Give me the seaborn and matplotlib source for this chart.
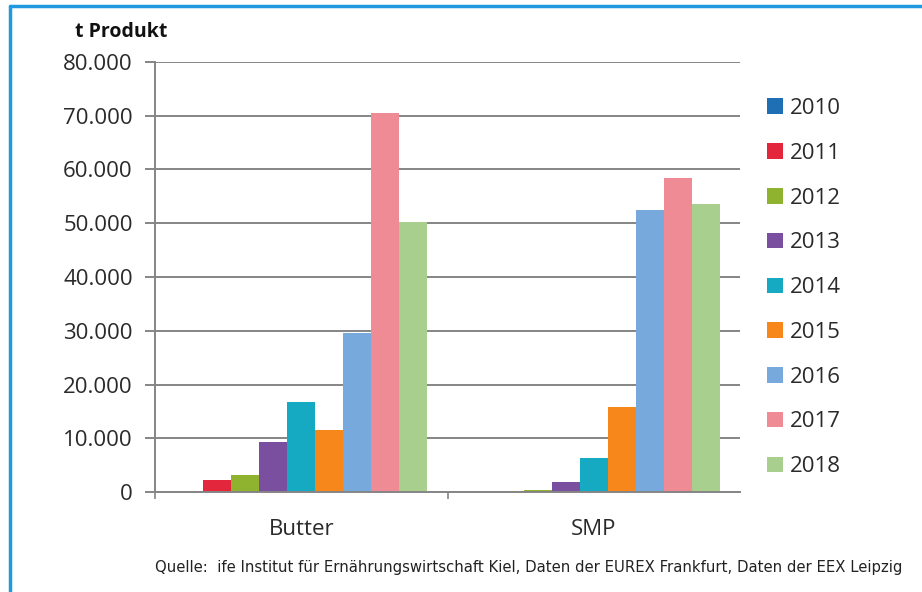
import pandas as pd
import seaborn as sns
import matplotlib.pyplot as plt
from matplotlib.ticker import FuncFormatter
from matplotlib.lines import Line2D

# Data (t Produkt)
products = ["Butter", "SMP"]
years = ["2010", "2011", "2012", "2013", "2014", "2015", "2016", "2017", "2018"]
butter = [0, 2300, 3200, 9400, 16700, 11500, 29600, 70500, 50300]
smp = [0, 0, 500, 1900, 6400, 15900, 52400, 58400, 53600]
colors = ["#1f6fb4", "#e3263b", "#8fb32e", "#7b4fa0", "#16a9c2",
          "#f7861b", "#78a9dc", "#ee8b95", "#a9cf8e"]

df = pd.DataFrame({
    "product": ["Butter"] * len(years) + ["SMP"] * len(years),
    "year": years * 2,
    "value": butter + smp,
})

sns.set_style("white")
plt.rcParams["font.family"] = ["Open Sans", "DejaVu Sans"]

fig = plt.figure(figsize=(9.22, 5.92), dpi=100)
ax = fig.add_axes([0.168, 0.1684, 0.635, 0.7274])

sns.barplot(data=df, x="product", y="value", hue="year", order=products,
            hue_order=years, palette=colors, width=0.86, saturation=1,
            edgecolor="none", ax=ax)

ax.set_xlim(-0.5, 1.5)
ax.set_ylim(0, 80000)
ax.set_yticks(range(0, 80001, 10000))
ax.yaxis.set_major_formatter(FuncFormatter(lambda v, p: f"{int(v):,}".replace(",", ".")))
ax.grid(axis="y", color="#858585", linewidth=1.4)
ax.set_axisbelow(True)
ax.tick_params(axis="y", labelsize=16, colors="#858585", labelcolor="#2a2a2a",
               length=7, width=1.4, pad=9, direction="out", left=True)
ax.tick_params(axis="x", labelsize=16, labelcolor="#2a2a2a", length=0, pad=19)
ax.set_xlabel("")
ax.set_ylabel("")
for s in ["top", "right"]:
    ax.spines[s].set_visible(False)
for s in ["left", "bottom"]:
    ax.spines[s].set_color("#858585")
    ax.spines[s].set_linewidth(1.4)

# category boundary ticks on the x axis
ax.set_xticks([0, 1], minor=False)
ax.set_xticks([-0.5, 0.5], minor=True)
ax.tick_params(axis="x", which="minor", length=5, color="#858585", width=1.2,
               direction="out", bottom=True)

fig.text(0.081, 0.946, "t Produkt", fontsize=14, fontweight="bold",
         color="#111111", va="center")

leg = ax.legend(loc="upper left", bbox_to_anchor=(1.012, 0.962), frameon=False,
                fontsize=16, handlelength=0.7, handleheight=0.7, handletextpad=0.3,
                labelspacing=1.07)
for t in leg.get_texts():
    t.set_color("#2a2a2a")

fig.text(0.168, 0.042,
         "Quelle:  ife Institut für Ernährungswirtschaft Kiel, Daten der EUREX Frankfurt, Daten der EEX Leipzig",
         fontsize=10.75, color="#222222", va="center", family=["DejaVu Sans"])

# blue frame (left and top)
fig.add_artist(Line2D([0.011, 0.011], [0.0, 0.99], color="#1f9ae0", linewidth=2.5))
fig.add_artist(Line2D([0.011, 1.0], [0.99, 0.99], color="#1f9ae0", linewidth=2.5))

fig.savefig("out.png", dpi=100)
